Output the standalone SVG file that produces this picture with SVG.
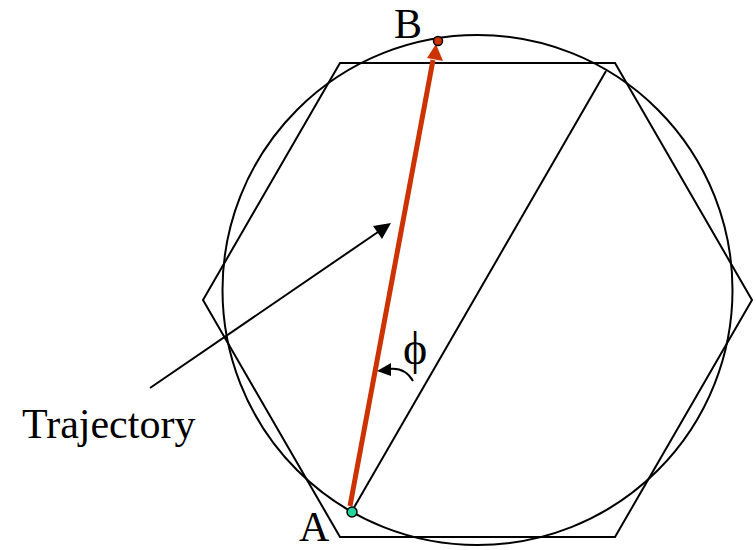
<svg xmlns="http://www.w3.org/2000/svg" width="756" height="550" viewBox="0 0 756 550">
<style>
.ln{fill:none;stroke:#000;stroke-width:2}
.t{font-family:"Liberation Serif","Times New Roman",serif;font-size:42px;fill:#000}
</style>
<rect width="756" height="550" fill="#fff"/>
<g id="hexagon"><polygon class="ln" points="340,63 615,63 752,300 615,537 340,537 203,300"/></g>
<g id="circle"><circle class="ln" cx="477.5" cy="290" r="255"/></g>
<g id="connectors">
<line class="ln" x1="352" y1="511" x2="606" y2="71"/>
<line x1="350" y1="506" x2="433" y2="60" stroke="#cc3300" stroke-width="5"/>
<polygon points="436,44 443,61 427,58" fill="#cc3300"/>
<path d="M150,388 L378,232" class="ln"/>
<polygon points="391,223 382,239 373,226" fill="#000"/>
<path d="M413,381 Q405,367 389,369" class="ln"/>
<polygon points="377,371 391,363 391,376" fill="#000"/>
</g>
<g id="B"><circle cx="438" cy="41" r="4.5" fill="#cc3300" stroke="#000" stroke-width="1.5"/><text class="t" x="394" y="38">B</text></g>
<g id="A"><circle cx="352" cy="512" r="5" fill="#1fd6a0" stroke="#000" stroke-width="1.5"/><text class="t" x="299" y="541">A</text></g>
<g id="phi"><text class="t" x="403" y="364" style="font-size:46px">ϕ</text></g>
<g id="trajectory"><text class="t" x="22" y="438">Trajectory</text></g>
</svg>
